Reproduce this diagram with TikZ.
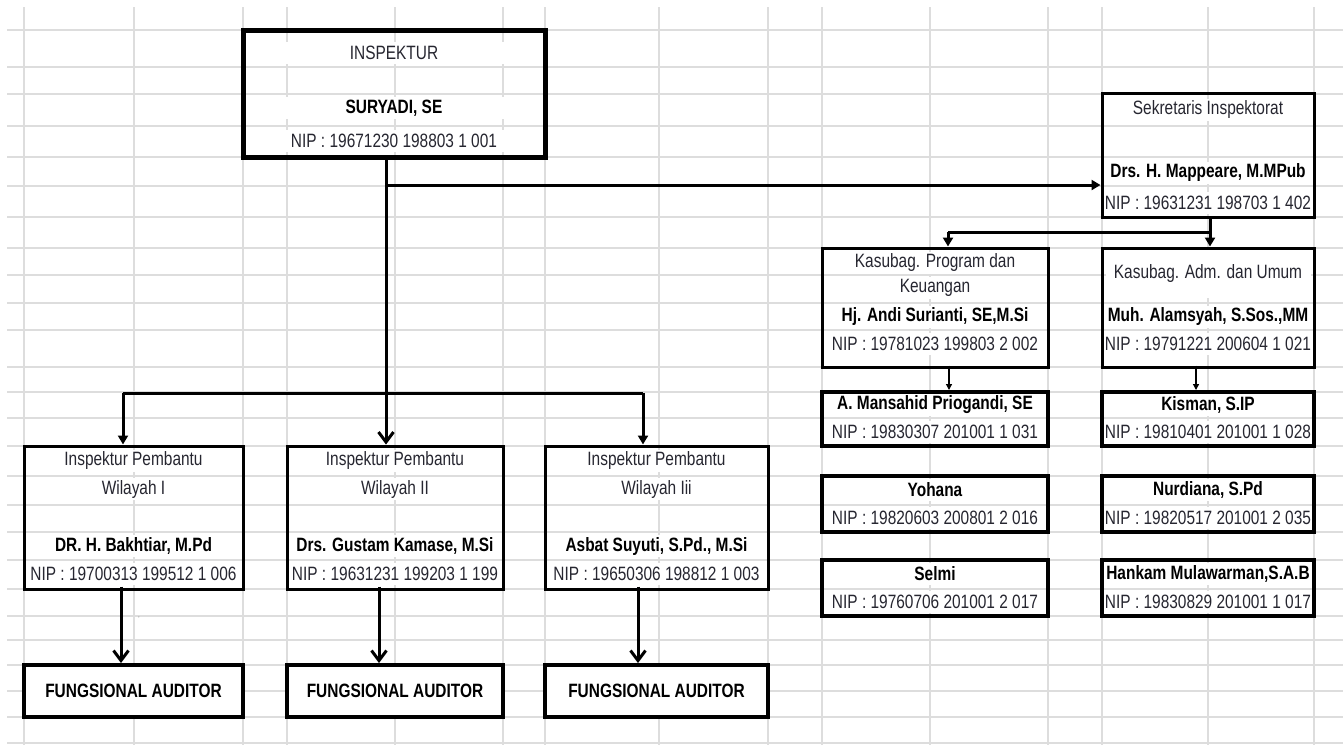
\documentclass[tikz,border=0pt]{standalone}
\usepackage{fontspec}
\setmainfont{Liberation Sans}[FakeStretch=0.8]
\usetikzlibrary{arrows.meta}
\definecolor{gridc}{HTML}{DDDDDD}
\definecolor{txtc}{HTML}{262630}
\begin{document}
\begin{tikzpicture}[x=1pt,y=-1pt,
  gridline/.style={draw=gridc,line width=1.2pt},
  boxa/.style={draw=black,line width=3pt,inner sep=0pt},
  boxb/.style={draw=black,line width=4pt,inner sep=0pt},
  boxc/.style={draw=black,line width=5pt,inner sep=0pt},
  t/.style={font=\fontsize{19.3}{21}\selectfont,text=txtc,inner sep=0pt,fill=white,minimum height=22pt,minimum width=#1},
  b/.style={t=#1,font=\fontsize{19.3}{21}\selectfont\bfseries,text=black},
  conn/.style={draw=black,line width=3pt},
  thin/.style={draw=black,line width=1.3pt,-{Triangle[length=6pt,width=6pt]}},
  tri/.style={-{Triangle[length=9pt,width=10pt]}},
  barb/.style={-{Straight Barb[length=10pt,width=15pt]}}
]
\useasboundingbox (0,0) rectangle (1343,745);
\fill[white] (0,0) rectangle (1343,745);
% spreadsheet grid
\foreach \gx in {24,134,243,287,395,503,545,659,768,822,930,1048,1102,1208,1314}
  \draw[gridline] (\gx,7) -- (\gx,745);
\foreach \gy in {30,67,94,126,157,186,217,248,275,303,330,367,392,418,446,476,505,532,560,589,616,640,665,691,717,743}
  \draw[gridline] (7,\gy) -- (1343,\gy);

% INSPEKTUR
\node[boxc,minimum width=302pt,minimum height=127pt] (insp) at (394,93.5) {};
\node[t=290pt] (insp1) at (394,53) {INSPEKTUR};
\node[b=290pt] (insp2) at (394,108) {SURYADI, SE};
\node[t=290pt] (insp3) at (394,141) {NIP : 19671230 198803 1 001};

% Sekretaris
\node[boxa,minimum width=212pt,minimum height=124pt] (sek) at (1208,155) {};
\node[t=205pt] (sek1) at (1208,110) {Sekretaris Inspektorat};
\node[b=205pt] (sek2) at (1208,173) {Drs. H. Mappeare, M.MPub};
\node[t=205pt] (sek3) at (1208,203) {NIP : 19631231 198703 1 402};

% Kasubag boxes
\node[boxa,minimum width=226pt,minimum height=119pt] (kp) at (935,307.5) {};
\node[t=219pt] (kp1) at (935,262.5) {Kasubag. Program dan};
\node[t=219pt] (kp2) at (935,288) {Keuangan};
\node[b=219pt] (kp3) at (935,317) {Hj. Andi Surianti, SE,M.Si};
\node[t=219pt] (kp4) at (935,344) {NIP : 19781023 199803 2 002};

\node[boxa,minimum width=212pt,minimum height=119pt] (ka) at (1208,307.5) {};
\node[t=205pt,minimum height=48pt] (ka1) at (1208,274) {Kasubag. Adm. dan Umum};
\node[b=205pt] (ka2) at (1208,317) {Muh. Alamsyah, S.Sos.,MM};
\node[t=205pt] (ka3) at (1208,344) {NIP : 19791221 200604 1 021};

% staff, left column
\node[boxb,minimum width=226pt,minimum height=54pt] (s1) at (935,419) {};
\node[b=218pt] (s1a) at (935,405) {A. Mansahid Priogandi, SE};
\node[t=218pt] (s1b) at (935,432) {NIP : 19830307 201001 1 031};
\node[boxb,minimum width=226pt,minimum height=56pt] (s2) at (935,504) {};
\node[b=218pt] (s2a) at (935,490) {Yohana};
\node[t=218pt] (s2b) at (935,518) {NIP : 19820603 200801 2 016};
\node[boxb,minimum width=226pt,minimum height=56pt] (s3) at (935,588) {};
\node[b=218pt] (s3a) at (935,574) {Selmi};
\node[t=218pt] (s3b) at (935,602) {NIP : 19760706 201001 2 017};

% staff, right column
\node[boxb,minimum width=212pt,minimum height=54pt] (r1) at (1208,419) {};
\node[b=204pt] (r1a) at (1208,405) {Kisman, S.IP};
\node[t=204pt] (r1b) at (1208,432) {NIP : 19810401 201001 1 028};
\node[boxb,minimum width=212pt,minimum height=56pt] (r2) at (1208,504) {};
\node[b=204pt] (r2a) at (1208,490) {Nurdiana, S.Pd};
\node[t=204pt] (r2b) at (1208,518) {NIP : 19820517 201001 2 035};
\node[boxb,minimum width=212pt,minimum height=56pt] (r3) at (1208,588) {};
\node[b=204pt] (r3a) at (1208,574) {Hankam Mulawarman,S.A.B};
\node[t=204pt] (r3b) at (1208,602) {NIP : 19830829 201001 1 017};

% Inspektur Pembantu
\node[boxa,minimum width=219pt,minimum height=143pt] (ip1) at (133.5,517.5) {};
\node[t=212pt] (ip1a) at (133.5,461) {Inspektur Pembantu};
\node[t=212pt] (ip1b) at (133.5,489) {Wilayah I};
\node[b=212pt] (ip1c) at (133.5,546) {DR. H. Bakhtiar, M.Pd};
\node[t=212pt] (ip1d) at (133.5,574) {NIP : 19700313 199512 1 006};

\node[boxa,minimum width=216pt,minimum height=143pt] (ip2) at (395,517.5) {};
\node[t=209pt] (ip2a) at (395,461) {Inspektur Pembantu};
\node[t=209pt] (ip2b) at (395,489) {Wilayah II};
\node[b=209pt] (ip2c) at (395,546) {Drs. Gustam Kamase, M.Si};
\node[t=209pt] (ip2d) at (395,574) {NIP : 19631231 199203 1 199};

\node[boxa,minimum width=223pt,minimum height=143pt] (ip3) at (656.5,517.5) {};
\node[t=216pt] (ip3a) at (656.5,461) {Inspektur Pembantu};
\node[t=216pt] (ip3b) at (656.5,489) {Wilayah Iii};
\node[b=216pt] (ip3c) at (656.5,546) {Asbat Suyuti, S.Pd., M.Si};
\node[t=216pt] (ip3d) at (656.5,574) {NIP : 19650306 198812 1 003};

% Fungsional auditor
\node[boxb,fill=white,minimum width=219pt,minimum height=52pt,font=\fontsize{19.3}{21}\selectfont\bfseries] (fu1) at (133.5,691) {FUNGSIONAL AUDITOR};
\node[boxb,fill=white,minimum width=216pt,minimum height=52pt,font=\fontsize{19.3}{21}\selectfont\bfseries] (fu2) at (395,691) {FUNGSIONAL AUDITOR};
\node[boxb,fill=white,minimum width=223pt,minimum height=52pt,font=\fontsize{19.3}{21}\selectfont\bfseries] (fu3) at (656.5,691) {FUNGSIONAL AUDITOR};

\node[font=\fontsize{7}{8}\selectfont,text=gray,inner sep=0pt] (tick) at (139,619) {'};

% connector anchors
\coordinate (trunk) at (386,0);
\coordinate (bar) at (0,393);
\coordinate (sekbar) at (0,185);
\coordinate (kx1) at (948,0);
\coordinate (kx2) at (1210,0);
\coordinate (kbar) at (0,232);
\coordinate (lx1) at (123,0);
\coordinate (lx3) at (643,0);
\coordinate (fx1) at (121,0);
\coordinate (fx2) at (379,0);
\coordinate (fx3) at (638,0);
\coordinate (sx1) at (949,0);
\coordinate (sx2) at (1196,0);

% main trunk
\draw[conn,barb] (trunk |- insp.south) -- (trunk |- ip2.north);
\draw[conn,tri] (trunk |- sekbar) -- (sek.west |- sekbar);
\draw[conn] (lx1 |- bar) -- (lx3 |- bar);
\draw[conn,tri] (lx1 |- bar) -- (lx1 |- ip1.north);
\draw[conn,tri] (lx3 |- bar) -- (lx3 |- ip3.north);

% secretary branch
\draw[conn] (kx2 |- sek.south) -- (kx2 |- kbar) -- (kx1 |- kbar);
\draw[conn,tri] (kx1 |- kbar) -- (kx1 |- kp.north);
\draw[conn,tri] (kx2 |- kbar) -- (kx2 |- ka.north);
\draw[thin] ([yshift=3pt]sx1 |- kp.south) -- (sx1 |- s1.north);
\draw[thin] ([yshift=3pt]sx2 |- ka.south) -- (sx2 |- r1.north);

% to functional auditors
\draw[conn,barb] ([yshift=4pt]fx1 |- ip1.south) -- (fx1 |- fu1.north);
\draw[conn,barb] ([yshift=4pt]fx2 |- ip2.south) -- (fx2 |- fu2.north);
\draw[conn,barb] ([yshift=4pt]fx3 |- ip3.south) -- (fx3 |- fu3.north);
\end{tikzpicture}
\end{document}
